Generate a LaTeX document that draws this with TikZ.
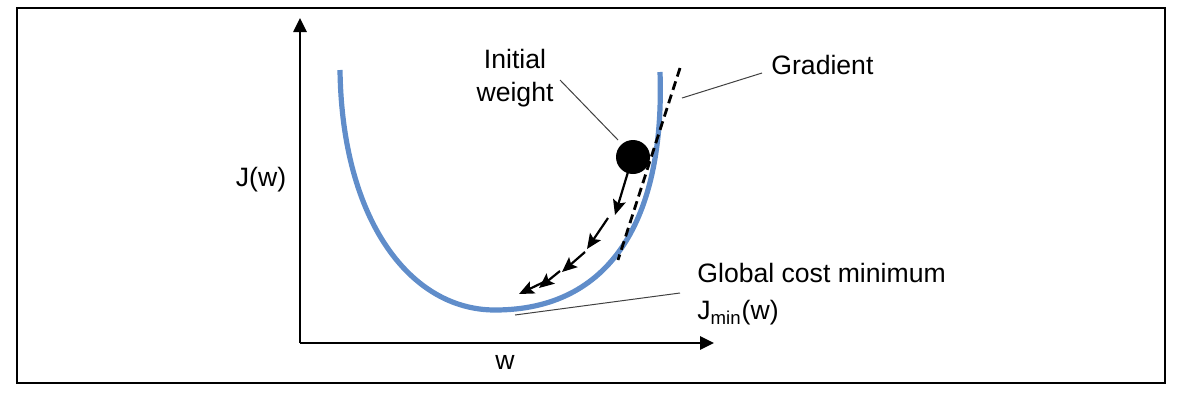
\documentclass[tikz,border=0pt]{standalone}
\usepackage{fontspec}
\setmainfont{Liberation Sans}
\usetikzlibrary{arrows.meta,positioning}

\definecolor{curveblue}{RGB}{96,141,202}

\begin{document}
\begin{tikzpicture}[x=0.5pt,y=-0.5pt,
      lbl/.style={font=\fontsize{13.3}{16.5}\selectfont,inner sep=0pt},
      axis/.style={line width=1.3pt,-{Triangle[length=7pt,width=6.5pt]}},
      leader/.style={line width=0.5pt,black!75},
      descent/.style={line width=1.1pt,-{Stealth[length=7.5pt,width=6.5pt,inset=1.5pt]}},
      ballstyle/.style={circle,fill=black,minimum size=17pt,inner sep=0pt}]
    \useasboundingbox (0,0) rectangle (1181,392);
    \draw[line width=0.8pt] (17,8) rectangle (1165,383);
    % axes
    \coordinate (origin) at (300,343);
    \coordinate (ytop) at (300,18);
    \coordinate (xend) at (714,343);
    \draw[axis] (origin) -- (ytop);
    \draw[axis] (origin) -- (xend);
    \node[lbl] (ylbl) at (261,180) {J(w)};
    \node[lbl] (xlbl) at (505,362) {w};
    % cost curve
    \coordinate (cmin) at (495,310);
    \draw[curveblue,line width=2.6pt] (340,70) .. controls (342,220) and (410,310) .. (cmin)
      .. controls (610,310) and (665,220) .. (660,72);
    % gradient
    \coordinate (gradA) at (680,68);
    \coordinate (gradB) at (618,260);
    \draw[line width=1.4pt,dash pattern=on 4.5pt off 2.5pt] (gradA) -- (gradB);
    \node[ballstyle] (ball) at (633,157) {};
    % steps downhill
    \foreach \sx/\sy/\ex/\ey in {628/172/615/215, 608/218/587/249, 585/252/562/272,
        560/271/539/288, 548/280/519/294}
      \draw[descent] (\sx,\sy) -- (\ex,\ey);
    % labels
    \node[lbl,align=center] (lblInit) at (515,78) {Initial\\weight};
    \node[lbl,anchor=west] (lblGrad) at (771,65) {Gradient};
    \node[lbl,anchor=west] (lblGlobal) at (697,273) {Global cost minimum};
    \node[lbl,anchor=west] (lblJmin) at (697,313) {J\textsubscript{min}(w)};
    \coordinate (initFrom) at (560,80);
    \coordinate (initTo) at (618,140);
    \coordinate (gradFrom) at (762,73);
    \coordinate (gradTo) at (682,98);
    \coordinate (globFrom) at (680,293);
    \coordinate (globTo) at (515,315);
    \draw[leader] (initFrom) -- (initTo);
    \draw[leader] (gradFrom) -- (gradTo);
    \draw[leader] (globFrom) -- (globTo);
  \end{tikzpicture}
\end{document}
